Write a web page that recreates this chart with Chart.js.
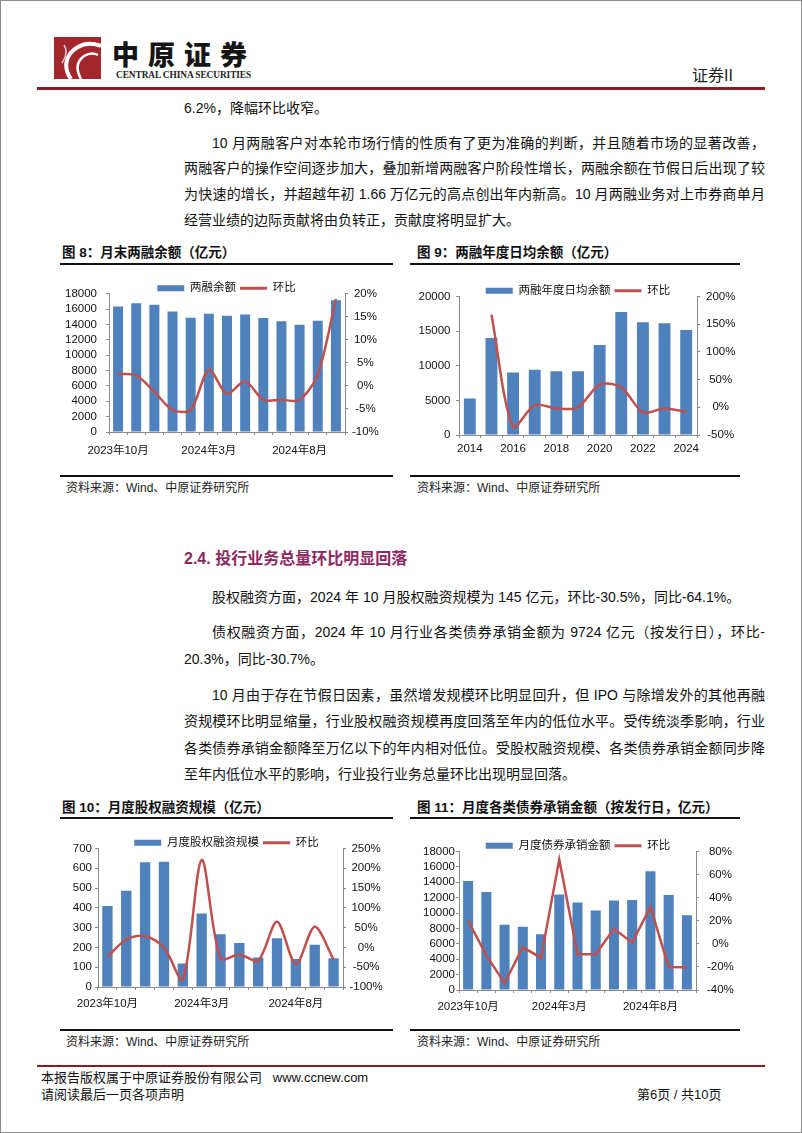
<!DOCTYPE html>
<html lang="zh-CN">
<head>
<meta charset="UTF-8">
<title>证券II</title>
<script src="https://cdn.jsdelivr.net/npm/chart.js"></script>
<style>
  html, body { margin: 0; padding: 0; background: #fff; }
  body {
    width: 802px; height: 1133px; position: relative; overflow: hidden;
    font-family: "Liberation Sans", Arial, "Noto Sans CJK SC", sans-serif; color: #111;
  }
  .frame { position: absolute; left: 0; top: 0; width: 800px; height: 1131px; border: 1px solid #8c8c8c; }
  .abs { position: absolute; white-space: nowrap; }
  .rule { position: absolute; background: #111; }
  .red { background: #851d22; }
  .p { position: absolute; left: 184px; height: 20px; line-height: 20px; font-size: 14px; white-space: nowrap; }
  .ind { left: 212px; }
  .full { white-space: normal; overflow: hidden; text-align: justify; text-align-last: justify; width: 581px; }
  .ind.full { width: 553px; }
  .ftitle { position: absolute; font-size: 13.5px; font-weight: 700; line-height: 20px; white-space: nowrap; }
  .src { position: absolute; font-size: 12px; line-height: 16px; white-space: nowrap; color: #222; }
  .chart { position: absolute; }
</style>
</head>
<body>
<div class="frame"></div>

<!-- header -->
<svg class="abs" style="left:54px;top:37px" width="47" height="42" viewBox="0 0 47 42">
  <rect width="47" height="42" fill="#a3262d"/>
  <path d="M17 42 C 9 31, 11 17, 24 10 C 31 6, 39 6, 47 9" stroke="#fff" stroke-width="4" fill="none"/>
  <path d="M27 42 C 22 33, 22 25, 30 19 C 35 16, 40 16, 44 18" stroke="#fff" stroke-width="2.5" fill="none"/>
  <path d="M10 8 C 14 14, 12 20, 8 26" stroke="#e9c9ca" stroke-width="1.5" fill="none"/>
</svg>
<div class="abs" style="left:112px;top:40px;font-family:'Noto Sans CJK SC';font-weight:900;font-size:27px;line-height:28px;letter-spacing:9px;color:#151515">中原证券</div>
<div class="abs" style="left:116px;top:70px;font-family:'Liberation Serif';font-weight:700;font-size:9.4px;line-height:10px;letter-spacing:-0.1px;color:#222">CENTRAL CHINA SECURITIES</div>
<div class="abs" style="left:692px;top:66px;font-size:16px;line-height:20px;color:#222">证券II</div>
<div class="rule red" style="left:37px;top:87px;width:728px;height:2.5px"></div>

<!-- text block 1 -->
<div class="p" style="top:98px">6.2%，降幅环比收窄。</div>
<div class="p ind full" style="top:133px">10 月两融客户对本轮市场行情的性质有了更为准确的判断，并且随着市场的显著改善，</div>
<div class="p full" style="top:158px">两融客户的操作空间逐步加大，叠加新增两融客户阶段性增长，两融余额在节假日后出现了较</div>
<div class="p full" style="top:184px">为快速的增长，并超越年初 1.66 万亿元的高点创出年内新高。10 月两融业务对上市券商单月</div>
<div class="p" style="top:210px">经营业绩的边际贡献将由负转正，贡献度将明显扩大。</div>

<!-- figure 8 / 9 -->
<div class="ftitle" style="left:62px;top:243px">图 8：月末两融余额（亿元）</div>
<div class="rule" style="left:60px;top:263px;width:333px;height:2px"></div>
<div class="chart" style="left:60px;top:278px"><canvas id="c8" width="333" height="180"></canvas></div>
<div class="rule" style="left:60px;top:475px;width:333px;height:1.5px"></div>
<div class="src" style="left:66px;top:480px">资料来源：Wind、中原证券研究所</div>

<div class="ftitle" style="left:417px;top:243px">图 9：两融年度日均余额（亿元）</div>
<div class="rule" style="left:410px;top:263px;width:330px;height:2px"></div>
<div class="chart" style="left:410px;top:281px"><canvas id="c9" width="336" height="180"></canvas></div>
<div class="rule" style="left:410px;top:475px;width:330px;height:1.5px"></div>
<div class="src" style="left:417px;top:480px">资料来源：Wind、中原证券研究所</div>

<!-- section 2.4 -->
<div class="abs" style="left:184px;top:548px;font-size:16px;line-height:22px;font-weight:700;color:#8c2a5f">2.4. 投行业务总量环比明显回落</div>
<div class="p ind" style="top:587px">股权融资方面，2024 年 10 月股权融资规模为 145 亿元，环比-30.5%，同比-64.1%。</div>
<div class="p ind full" style="top:622px">债权融资方面，2024 年 10 月行业各类债券承销金额为 9724 亿元（按发行日），环比-</div>
<div class="p" style="top:649px">20.3%，同比-30.7%。</div>
<div class="p ind full" style="top:685px">10 月由于存在节假日因素，虽然增发规模环比明显回升，但 IPO 与除增发外的其他再融</div>
<div class="p full" style="top:711px">资规模环比明显缩量，行业股权融资规模再度回落至年内的低位水平。受传统淡季影响，行业</div>
<div class="p full" style="top:738px">各类债券承销金额降至万亿以下的年内相对低位。受股权融资规模、各类债券承销金额同步降</div>
<div class="p" style="top:764px">至年内低位水平的影响，行业投行业务总量环比出现明显回落。</div>

<!-- figure 10 / 11 -->
<div class="ftitle" style="left:62px;top:798px">图 10：月度股权融资规模（亿元）</div>
<div class="rule" style="left:60px;top:817px;width:333px;height:2px"></div>
<div class="chart" style="left:60px;top:833px"><canvas id="c10" width="333" height="180"></canvas></div>
<div class="rule" style="left:60px;top:1029px;width:333px;height:1.5px"></div>
<div class="src" style="left:66px;top:1034px">资料来源：Wind、中原证券研究所</div>

<div class="ftitle" style="left:417px;top:798px">图 11：月度各类债券承销金额（按发行日，亿元）</div>
<div class="rule" style="left:410px;top:817px;width:330px;height:2px"></div>
<div class="chart" style="left:410px;top:836px"><canvas id="c11" width="336" height="180"></canvas></div>
<div class="rule" style="left:410px;top:1029px;width:330px;height:1.5px"></div>
<div class="src" style="left:417px;top:1034px">资料来源：Wind、中原证券研究所</div>

<!-- footer -->
<div class="rule red" style="left:37px;top:1065px;width:728px;height:2px"></div>
<div class="abs" style="left:41px;top:1069px;font-size:13px;line-height:18px">本报告版权属于中原证券股份有限公司&nbsp;&nbsp;&nbsp;www.ccnew.com</div>
<div class="abs" style="left:41px;top:1086px;font-size:13px;line-height:18px">请阅读最后一页各项声明</div>
<div class="abs" style="left:637px;top:1086px;font-size:13px;line-height:18px">第6页 / 共10页</div>

<script>
// months for fig 8, 10, 11
const months = ['2023年10月', '2023年11月', '2023年12月', '2024年1月', '2024年2月', '2024年3月', '2024年4月',
  '2024年5月', '2024年6月', '2024年7月', '2024年8月', '2024年9月', '2024年10月'];
const years = ['2014', '2015', '2016', '2017', '2018', '2019', '2020', '2021', '2022', '2023', '2024'];

// fig 8
const marginBal = [16360, 16790, 16575, 15710, 14890, 15410, 15150, 15320, 14850, 14420, 13990, 14500, 17180];
const marginBalMoM = [2.6, 2.3, -1.3, -5.2, -5.2, 3.5, -1.7, 1.0, -3.0, -3.0, -3.0, 2.5, 18.9];
// fig 9
const avgBal = [5260, 14020, 9040, 9430, 9190, 9190, 13010, 17750, 16270, 16120, 15170];
const avgBalYoY = [null, 167, -35, 4, -2, 0, 41, 36, -9, -2, -8];
// fig 10
const equityFin = [410, 487, 631, 633, 119, 372, 266, 223, 149, 246, 142, 214, 145];
const equityFinMoM = [-24, 20, 29, 0, -81, 221, -28, -18, -33, 65, -42, 52, -30.5];
// fig 11
const bondUw = [14170, 12750, 8480, 8230, 7230, 12400, 11370, 10340, 11630, 11710, 15420, 12360, 9724];
const bondUwMoM = [20, -10, -34, -3, -12, 73, -9, -9, 13, 1, 32, -20, -20.3];

const BAR = '#4f81bd';
const LINE = '#c0504d';
const AXIS = '#8a8a8a';

Chart.defaults.font.family = '"Liberation Sans", Arial, "Noto Sans CJK SC", sans-serif';
Chart.defaults.font.size = 11.5;
Chart.defaults.color = '#111';

// legend sits closer to the plot than chart.js allows by default
const tightLegend = {
  id: 'tightLegend',
  afterInit(chart) {
    const lg = chart.legend;
    if (!lg) return;
    const fit = lg.fit;
    lg.fit = function () { fit.call(this); this.height -= 10; };
  }
};

function combo(id, labels, bars, line, o) {
  const axisGrid = { display: true, drawOnChartArea: false, tickLength: 3, color: AXIS };
  return new Chart(document.getElementById(id), {
    type: 'bar',
    data: {
      labels,
      datasets: [
        { label: o.barLabel, data: bars, backgroundColor: BAR, barPercentage: 0.55, categoryPercentage: 1, order: 1, yAxisID: 'y' },
        { type: 'line', label: '环比', data: line, borderColor: LINE, backgroundColor: LINE, borderWidth: 2.5,
          pointRadius: 0, tension: o.tension, order: 0, yAxisID: 'y1' }
      ]
    },
    plugins: [tightLegend],
    options: {
      responsive: false,
      animation: false,
      events: [],
      layout: { padding: 0 },
      plugins: {
        tooltip: { enabled: false },
        legend: {
          position: 'top',
          labels: {
            usePointStyle: true, pointStyleWidth: 27, boxHeight: 6, padding: 4, color: '#111',
            font: { size: 11.5 },
            sort: (a, b) => a.datasetIndex - b.datasetIndex,
            generateLabels(chart) {
              const items = Chart.defaults.plugins.legend.labels.generateLabels(chart);
              items.forEach(it => {
                if (it.datasetIndex === 0) { it.pointStyle = 'rect'; it.lineWidth = 0; }
                else { it.pointStyle = 'line'; it.lineWidth = 3; it.strokeStyle = LINE; }
              });
              return items;
            }
          }
        }
      },
      scales: {
        x: {
          grid: Object.assign({ offset: true }, axisGrid),
          border: { color: AXIS },
          ticks: {
            autoSkip: false, maxRotation: 0, padding: o.xPad,
            callback(v, i) { return i % o.every === 0 ? this.getLabelForValue(v) : ''; }
          },
          afterFit: s => { s.height = 26; }
        },
        y: {
          position: 'left', min: 0, max: o.yMax,
          ticks: { stepSize: o.yStep, padding: o.yPad, autoSkip: false, callback: v => String(v) },
          grid: axisGrid, border: { color: AXIS },
          afterFit: s => { s.width = o.yW; }
        },
        y1: {
          position: 'right', min: o.rMin, max: o.rMax,
          ticks: { stepSize: o.rStep, padding: o.rPad, autoSkip: false, crossAlign: 'center', callback: v => v + '%' },
          grid: axisGrid, border: { color: AXIS },
          afterFit: s => { s.width = o.rW; }
        }
      }
    }
  });
}

combo('c8', months, marginBal, marginBalMoM, {
  barLabel: '两融余额', tension: 0.3, every: 5, xPad: 8.5,
  yMax: 18000, yStep: 2000, yPad: 9, yW: 49,
  rMin: -10, rMax: 20, rStep: 5, rPad: 4, rW: 48
});
combo('c9', years, avgBal, avgBalYoY, {
  barLabel: '两融年度日均余额', tension: 0.3, every: 2, xPad: 3.5,
  yMax: 20000, yStep: 5000, yPad: 5.5, yW: 49,
  rMin: -50, rMax: 200, rStep: 50, rPad: 6, rW: 49
});
combo('c10', months, equityFin, equityFinMoM, {
  barLabel: '月度股权融资规模', tension: 0.3, every: 5, xPad: 6.5,
  yMax: 700, yStep: 100, yPad: 3, yW: 38,
  rMin: -100, rMax: 250, rStep: 50, rPad: 3.5, rW: 50
});
combo('c11', months, bondUw, bondUwMoM, {
  barLabel: '月度债券承销金额', tension: 0, every: 5, xPad: 7,
  yMax: 18000, yStep: 2000, yPad: 1, yW: 49,
  rMin: -40, rMax: 80, rStep: 20, rPad: 8, rW: 50
});
</script>
</body>
</html>
